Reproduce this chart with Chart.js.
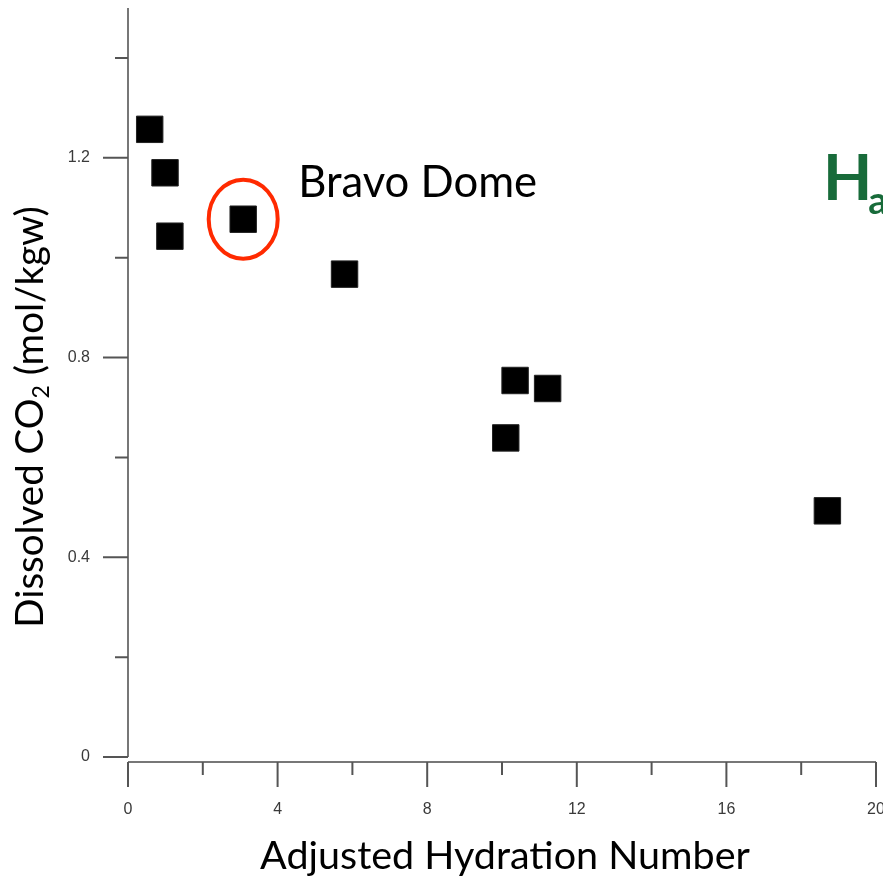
<!DOCTYPE html>
<html>
<head>
<meta charset="utf-8">
<script src="https://cdn.jsdelivr.net/npm/chart.js@4.4.1/dist/chart.umd.min.js"></script>
<style>
  html, body { margin: 0; padding: 0; background: #fff; overflow: hidden; }
  #wrap { width: 883px; height: 876px; }
</style>
</head>
<body>
<div id="wrap"><canvas id="co2Chart" width="883" height="876"></canvas></div>
<script>
// Hydration number vs dissolved CO2, one point per field sample
const hydrationNumber = [0.58, 0.99, 1.12, 3.08, 5.79, 10.35, 11.22, 10.10, 18.70];
const dissolvedCO2   = [1.257, 1.170, 1.043, 1.077, 0.967, 0.754, 0.738, 0.639, 0.493];

// Tick values (labelled majors, unlabelled minors)
const xMajorTicks = [0, 4, 8, 12, 16, 20];
const xMinorTicks = [2, 6, 10, 14, 18];
const yMajorTicks = [0, 0.4, 0.8, 1.2];
const yMinorTicks = [0.2, 0.6, 1.0, 1.4];

// Annotations
const circledIndex = 3;               // Bravo Dome sample
const bravoLabel = { text: 'Bravo Dome', x: 4.55, y: 1.146 };
const haLabel = { x: 18.58, y: 1.116 };

const TEXT_FONT = 'Lato, "Open Sans", sans-serif';
const TICK_FONT = '16px "Liberation Sans", Arial, sans-serif';

// pick a font size so the string covers the given pixel width
function fitFont(ctx, text, width, weight) {
    ctx.font = (weight || '') + ' 100px ' + TEXT_FONT;
    const w = ctx.measureText(text).width;
    return 100 * width / w;
}

const axesPlugin = {
    id: 'customAxes',
    afterDraw: (chart) => {
        const { ctx } = chart;
        const xs = chart.scales.x;
        const ys = chart.scales.y;
        const x0 = xs.getPixelForValue(0);
        const y0 = ys.getPixelForValue(0);
        const xAxisY = y0 + 5;

        ctx.save();
        ctx.strokeStyle = '#777';
        ctx.lineWidth = 2;

        // y axis
        ctx.beginPath();
        ctx.moveTo(x0, ys.getPixelForValue(ys.max));
        ctx.lineTo(x0, y0);
        ctx.stroke();
        // x axis
        ctx.beginPath();
        ctx.moveTo(x0, xAxisY);
        ctx.lineTo(xs.getPixelForValue(20), xAxisY);
        ctx.stroke();

        // ticks
        ctx.strokeStyle = '#555';
        ctx.beginPath();
        yMajorTicks.forEach(v => { const p = ys.getPixelForValue(v); ctx.moveTo(x0, p); ctx.lineTo(x0 - 25, p); });
        yMinorTicks.forEach(v => { const p = ys.getPixelForValue(v); ctx.moveTo(x0, p); ctx.lineTo(x0 - 13, p); });
        xMajorTicks.forEach(v => { const p = xs.getPixelForValue(v); ctx.moveTo(p, xAxisY); ctx.lineTo(p, xAxisY + 25); });
        xMinorTicks.forEach(v => { const p = xs.getPixelForValue(v); ctx.moveTo(p, xAxisY); ctx.lineTo(p, xAxisY + 13); });
        ctx.stroke();

        // tick labels
        ctx.fillStyle = '#3a3a3a';
        ctx.font = TICK_FONT;
        ctx.textBaseline = 'middle';
        ctx.textAlign = 'right';
        yMajorTicks.forEach(v => ctx.fillText(String(v), x0 - 38, ys.getPixelForValue(v)));
        ctx.textAlign = 'center';
        xMajorTicks.forEach(v => ctx.fillText(String(v), xs.getPixelForValue(v), xAxisY + 48));

        // x title
        ctx.fillStyle = '#000';
        const xt = 'Adjusted Hydration Number';
        ctx.font = fitFont(ctx, xt, 490) + 'px ' + TEXT_FONT;
        ctx.textBaseline = 'alphabetic';
        ctx.textAlign = 'center';
        ctx.fillText(xt, 505, 869);

        // y title with subscript 2
        const partA = 'Dissolved CO', partB = '2', partC = ' (mol/kgw)';
        const size = fitFont(ctx, partA + partC, 421 - 13);
        const subSize = size * 0.6;
        ctx.font = size + 'px ' + TEXT_FONT;
        const wA = ctx.measureText(partA).width;
        const wC = ctx.measureText(partC).width;
        ctx.font = subSize + 'px ' + TEXT_FONT;
        const wB = ctx.measureText(partB).width;
        const total = wA + wB + wC;
        ctx.translate(43, 417);
        ctx.rotate(-Math.PI / 2);
        ctx.textAlign = 'left';
        let cx = -total / 2;
        ctx.font = size + 'px ' + TEXT_FONT;
        ctx.fillText(partA, cx, 0); cx += wA;
        ctx.font = subSize + 'px ' + TEXT_FONT;
        ctx.fillText(partB, cx, size * 0.15); cx += wB;
        ctx.font = size + 'px ' + TEXT_FONT;
        ctx.fillText(partC, cx, 0);
        ctx.restore();

        // circle round the Bravo Dome point
        ctx.save();
        ctx.strokeStyle = '#ff2a00';
        ctx.lineWidth = 4;
        ctx.beginPath();
        ctx.ellipse(xs.getPixelForValue(hydrationNumber[circledIndex]),
                    ys.getPixelForValue(dissolvedCO2[circledIndex]), 34.5, 39.5, 0, 0, 2 * Math.PI);
        ctx.stroke();

        // Bravo Dome label
        ctx.fillStyle = '#000';
        ctx.font = fitFont(ctx, bravoLabel.text, 239) + 'px ' + TEXT_FONT;
        ctx.textAlign = 'left';
        ctx.textBaseline = 'alphabetic';
        ctx.fillText(bravoLabel.text, xs.getPixelForValue(bravoLabel.x), ys.getPixelForValue(bravoLabel.y) + 12);

        // green H with subscript a (cut by the page edge)
        ctx.fillStyle = '#186b3a';
        const hx = xs.getPixelForValue(haLabel.x);
        const hy = ys.getPixelForValue(haLabel.y);
        ctx.font = 'bold 64px ' + TEXT_FONT;
        ctx.fillText('H', hx, hy);
        const hw = ctx.measureText('H').width;
        ctx.font = 'bold 38px ' + TEXT_FONT;
        ctx.fillText('a', hx + hw - 4, hy + 14);
        ctx.restore();
    }
};

const chart = new Chart(document.getElementById('co2Chart'), {
    type: 'scatter',
    data: {
        datasets: [{
            label: 'Dissolved CO2',
            data: hydrationNumber.map((x, i) => ({ x: x, y: dissolvedCO2[i] })),
            pointStyle: 'rect',
            pointRadius: 18.7,
            pointHoverRadius: 18.7,
            backgroundColor: '#000',
            borderColor: '#222',
            borderWidth: 1,
            clip: false
        }]
    },
    options: {
        responsive: false,
        animation: false,
        events: [],
        layout: {
            autoPadding: false, // keep the plot area exactly where the axes are drawn
            padding: { top: 8, right: 7, bottom: 119, left: 128 }
        },
        plugins: {
            legend: { display: false },
            tooltip: { enabled: false }
        },
        scales: {
            x: { type: 'linear', min: 0, max: 20, display: false },
            y: { type: 'linear', min: 0, max: 1.5, display: false }
        }
    },
    plugins: [axesPlugin]
});
</script>
</body>
</html>
